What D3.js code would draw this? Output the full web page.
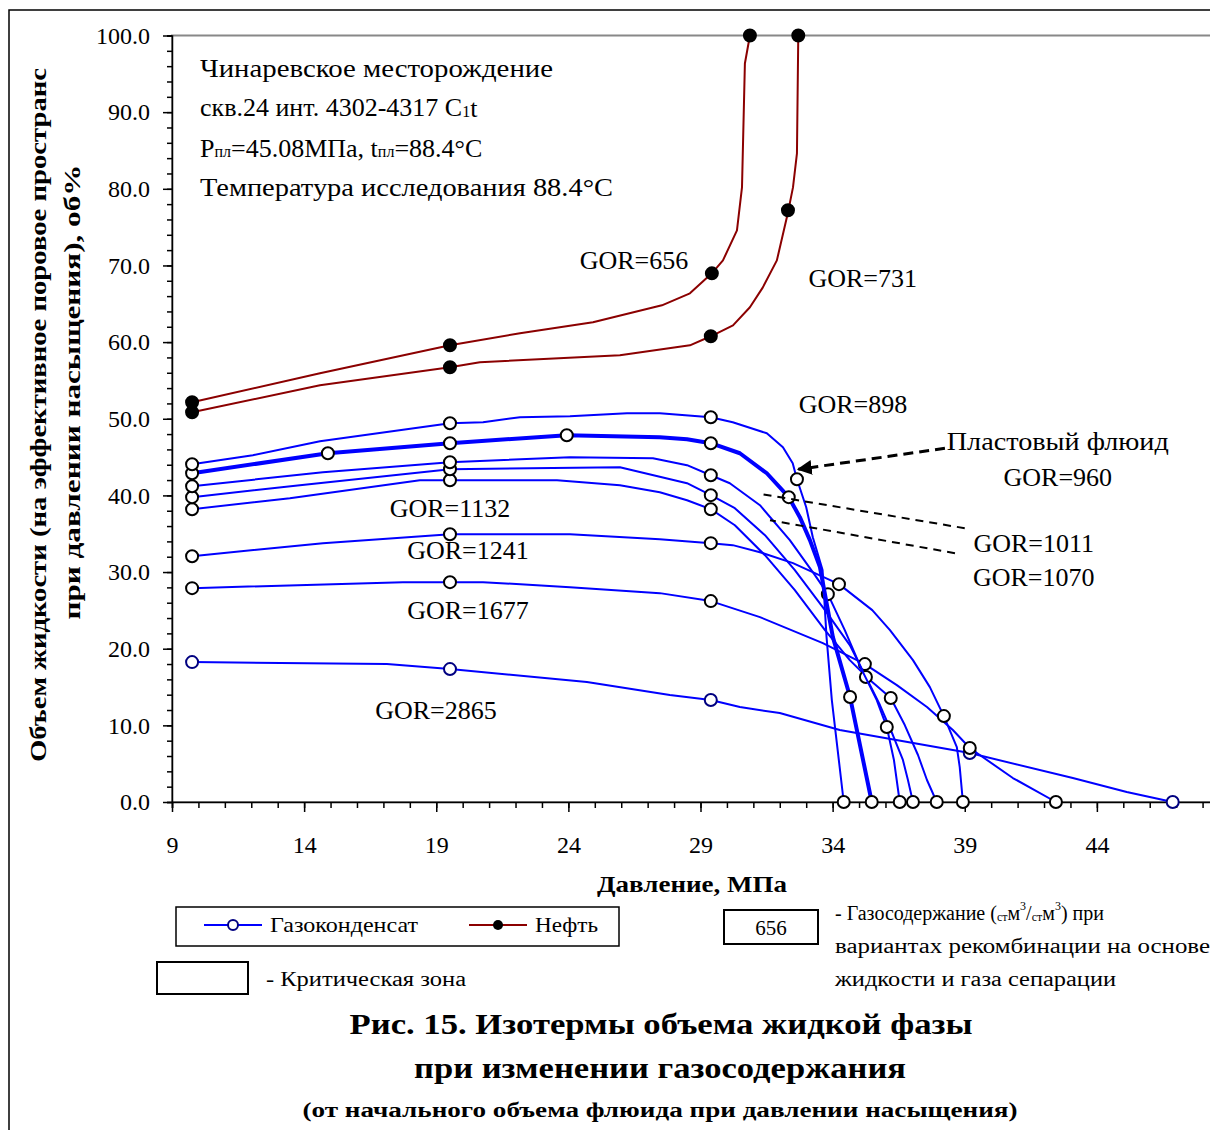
<!doctype html>
<html>
<head>
<meta charset="utf-8"/>
<title>Изотермы объема жидкой фазы</title>
<script src="https://d3js.org/d3.v7.min.js"></script>
<style>
  body { margin: 0; background: #fff; overflow: hidden; }
  text { font-family: "Liberation Serif", "Times New Roman", serif; fill: #000; }
</style>
</head>
<body>
<script>
// ---- data: [давление МПа, объем %] ----
// нефть (линия + точки)
var oil656Line = [[9.76,52.15],[14.6,55.93],[19.52,59.58],[22.17,61.15],[24.93,62.58],[27.54,64.8],[28.6,66.36],[29.43,68.97],[29.85,70.66],[30.38,74.58],[30.57,80.18],[30.68,96.35],[30.87,100]];
var oil656Pts  = [[9.76,52.15],[19.52,59.58],[29.43,68.97],[30.87,100]];
var oil731Line = [[9.76,50.85],[14.6,54.37],[19.52,56.71],[20.65,57.37],[25.95,58.28],[28.6,59.58],[29.39,60.76],[30.23,62.19],[30.87,64.54],[31.36,67.14],[31.89,70.66],[32.31,76.92],[32.5,80.18],[32.65,84.62],[32.7,100]];
var oil731Pts  = [[9.76,50.85],[19.52,56.71],[29.39,60.76],[32.31,77.2],[32.7,100]];

// газоконденсат
var gc898Line = [[9.76,44.07],[12.06,45.24],[14.6,47.07],[19.52,49.41],[20.77,49.54],[22.17,50.2],[24.06,50.33],[26.22,50.72],[27.46,50.72],[29.39,50.2],[30.22,49.54],[31.51,48.11],[32.12,46.28],[32.49,44.2],[32.65,42.11],[33.0,38.46],[33.25,34.55],[33.62,30.25],[33.77,21.51],[33.97,13.3],[34.42,0]];
var gc898Pts  = [[9.76,44.07],[19.52,49.41],[29.39,50.2],[32.65,42.11],[34.42,0]];
var gc960Line = [[9.76,42.89],[14.9,45.5],[19.52,46.81],[23.94,47.85],[27.46,47.59],[28.49,47.33],[29.39,46.81],[30.49,45.5],[31.51,42.89],[32.34,39.77],[32.76,37.16],[33.14,34.16],[33.52,30.64],[34.01,21.51],[34.66,13.69],[35.48,0]];
var gc960Pts  = [[9.76,42.89],[14.9,45.5],[19.52,46.81],[23.94,47.85],[29.39,46.81],[32.34,39.77],[34.66,13.69],[35.48,0]];
var gc1011Line = [[9.76,41.2],[14.71,43.02],[19.52,44.33],[24.06,44.98],[27.2,44.85],[28.49,43.94],[29.39,42.63],[30.11,41.59],[31.25,38.72],[32.38,34.16],[33.33,29.6],[33.82,27.12],[34.46,22.43],[35.11,17.21],[35.67,13.3],[36.05,9.78],[36.32,5.48],[36.54,0]];
var gc1011Pts  = [[9.76,41.2],[19.52,44.33],[29.39,42.63],[33.82,27.12],[36.05,9.78],[36.54,0]];
var gc1070Line = [[9.76,39.77],[13.84,41.33],[19.52,43.42],[25.95,43.68],[28.49,41.59],[29.39,40.03],[30.3,38.33],[31.44,34.81],[32.57,30.25],[33.71,25.03],[34.65,20.47],[35.26,16.3],[35.79,12.65],[36.28,8.74],[36.66,5.48],[36.85,2.87],[37.04,0]];
var gc1070Pts  = [[9.76,39.77],[19.52,43.42],[29.39,40.03],[35.26,16.3],[37.04,0]];
var gc1132Line = [[9.76,38.2],[13.46,39.63],[18.38,41.98],[19.52,41.98],[23.57,41.98],[25.95,41.33],[27.46,40.42],[28.49,39.37],[29.39,38.2],[30.3,36.11],[31.44,32.2],[32.57,27.64],[33.71,22.43],[34.65,18.51],[35.41,15.91],[36.2,13.56],[36.73,10.04],[37.23,6.13],[37.57,2.87],[37.94,0]];
var gc1132Pts  = [[9.76,38.2],[19.52,41.98],[29.39,38.2],[36.2,13.56],[37.94,0]];
var gc1241Line = [[9.76,32.07],[14.71,33.77],[19.52,34.94],[24.06,34.94],[27.46,34.29],[29.39,33.77],[30.22,33.51],[31.25,32.59],[32.5,31.16],[34.24,28.42],[35.5,25.03],[36.17,22.43],[37.04,18.51],[37.68,14.99],[38.21,11.21],[38.7,7.17],[38.81,4.56],[38.93,0]];
var gc1241Pts  = [[9.76,32.07],[19.52,34.94],[29.39,33.77],[34.24,28.42],[38.21,11.21],[38.93,0]];
var gc1677Line = [[9.76,27.9],[17.74,28.68],[20.77,28.68],[24.06,28.03],[27.46,27.25],[29.39,26.21],[31.25,24.12],[33.63,20.73],[35.22,17.99],[36.43,15.25],[37.57,12.39],[38.55,9.39],[39.19,7.04],[40.82,3.13],[42.45,0]];
var gc1677Pts  = [[9.76,27.9],[19.52,28.68],[29.39,26.21],[35.22,17.99],[39.19,7.04],[42.45,0]];
var gc2865Line = [[9.76,18.25],[17.13,17.99],[19.52,17.34],[24.7,15.65],[27.84,13.95],[29.39,13.3],[30.49,12.39],[32.0,11.6],[34.27,9.39],[39.19,6.39],[43.09,3.13],[45.13,1.3],[46.87,0]];
var gc2865Pts  = [[9.76,18.25],[19.52,17.34],[29.39,13.3],[39.19,6.39],[46.87,0]];

// подписи
var xTicks = [9, 14, 19, 24, 29, 34, 39, 44];
var yTicks = [0, 10, 20, 30, 40, 50, 60, 70, 80, 90, 100];
var gorLabels = ["GOR=656", "GOR=731", "GOR=898", "GOR=960", "GOR=1011", "GOR=1070", "GOR=1132", "GOR=1241", "GOR=1677", "GOR=2865"];
var legendNames = ["Газоконденсат", "Нефть"];

var W = 1210, H = 1130;
var svg = d3.select("body").append("svg").attr("width", W).attr("height", H);

// ось X уходит за правый край рисунка
var x = d3.scaleLinear().domain([9, 49]).range([172, 1229]);
var y = d3.scaleLinear().domain([0, 100]).range([802, 35.5]);

// рамка рисунка
svg.append("rect").attr("x", 9).attr("y", 10).attr("width", W + 5).attr("height", H + 5)
   .attr("fill", "none").attr("stroke", "#000").attr("stroke-width", 1.5);

// область графика
svg.append("rect").attr("x", x(9)).attr("y", y(100)).attr("width", x(49) - x(9)).attr("height", y(0) - y(100))
   .attr("fill", "#fff").attr("stroke", "#888").attr("stroke-width", 2);

// оси
function styleAxis(g) {
  g.selectAll("path, line").attr("stroke", "#000").attr("stroke-width", 1.5);
  g.selectAll("text").style("font-family", "Liberation Serif").style("font-size", "24px").attr("fill", "#000");
}
var gx = svg.append("g").attr("transform", "translate(0," + y(0) + ")");
gx.call(d3.axisBottom(x).tickValues(d3.range(9, 50, 1)).tickSize(6).tickFormat("")).call(styleAxis);
var gx2 = svg.append("g").attr("transform", "translate(0," + y(0) + ")");
gx2.call(d3.axisBottom(x).tickValues(xTicks).tickSize(10).tickPadding(24).tickFormat(d3.format("d"))).call(styleAxis);
gx2.select(".domain").remove();

var gy = svg.append("g").attr("transform", "translate(" + x(9) + ",0)");
gy.call(d3.axisLeft(y).tickValues(d3.range(0, 101, 2)).tickSize(5).tickFormat("")).call(styleAxis);
var gy2 = svg.append("g").attr("transform", "translate(" + x(9) + ",0)");
gy2.call(d3.axisLeft(y).tickValues(yTicks).tickSize(9).tickPadding(13).tickFormat(d3.format(".1f"))).call(styleAxis);
gy2.select(".domain").remove();

// линии и точки
var line = d3.line().x(function(d){ return x(d[0]); }).y(function(d){ return y(d[1]); });

function Serie(lineData, ptsData, color, width, ptFill, ptStroke) {
  svg.append("path").datum(lineData).attr("d", line)
     .attr("fill", "none").attr("stroke", color).attr("stroke-width", width).attr("stroke-linejoin", "round");
  svg.selectAll(null).data(ptsData).enter().append("circle")
     .attr("cx", function(d){ return x(d[0]); }).attr("cy", function(d){ return y(d[1]); })
     .attr("r", 6).attr("fill", ptFill).attr("stroke", ptStroke).attr("stroke-width", 2);
}

var blue = "#0000ff", red = "#8b0000";
Serie(gc2865Line, gc2865Pts, blue, 2, "#fff", "#000080");
Serie(gc1677Line, gc1677Pts, blue, 2, "#fff", "#000");
Serie(gc1241Line, gc1241Pts, blue, 2, "#fff", "#000");
Serie(gc1132Line, gc1132Pts, blue, 2, "#fff", "#000");
Serie(gc1070Line, gc1070Pts, blue, 2, "#fff", "#000");
Serie(gc1011Line, gc1011Pts, blue, 2, "#fff", "#000");
Serie(gc960Line, gc960Pts, blue, 4, "#fff", "#000");
Serie(gc898Line, gc898Pts, blue, 2, "#fff", "#000");
Serie(oil731Line, oil731Pts, red, 2, "#000", "#000");
Serie(oil656Line, oil656Pts, red, 2, "#000", "#000");

// текст
function Texto(px, py, str, size, opts) {
  opts = opts || {};
  var t = svg.append("text").attr("x", px).attr("y", py).text(str)
     .style("font-size", size + "px")
     .attr("text-anchor", opts.anchor || "start")
     .attr("dominant-baseline", "central");
  if (opts.bold) t.style("font-weight", "bold");
  if (opts.len) t.attr("textLength", opts.len).attr("lengthAdjust", "spacingAndGlyphs");
  if (opts.rot) t.attr("transform", "rotate(" + opts.rot + "," + px + "," + py + ")");
  return t;
}

// информация о месторождении
Texto(x(10.06), y(95.7), "Чинаревское месторождение", 26, {len: 353});
var t2 = Texto(x(10.06), y(90.6), "скв.24 инт. 4302-4317 C", 26);
t2.append("tspan").text("1").style("font-size", "16px").attr("dy", 3);
t2.append("tspan").text("t").attr("dy", -3);
var t3 = Texto(x(10.06), y(85.3), "P", 26);
t3.append("tspan").text("пл").style("font-size", "16px").attr("dy", 3);
t3.append("tspan").text("=45.08МПа, t").attr("dy", -3);
t3.append("tspan").text("пл").style("font-size", "16px").attr("dy", 3);
t3.append("tspan").text("=88.4°C").attr("dy", -3);
Texto(x(10.06), y(80.2), "Температура исследования 88.4°C", 26, {len: 413});

// подписи GOR
var gorPos = [[26.48,70.66],[35.14,68.32],[34.77,51.89],[42.52,42.37],[41.61,33.77],[41.61,29.34],[19.52,38.33],[20.2,32.86],[20.2,25.03],[18.99,12.0]];
gorLabels.forEach(function(s, i) {
  Texto(x(gorPos[i][0]), y(gorPos[i][1]), s, 26, {anchor: "middle"});
});
Texto(x(42.52), y(47.07), "Пластовый флюид", 26, {anchor: "middle", len: 222});

// стрелки
svg.append("defs").append("marker").attr("id", "arr").attr("viewBox", "0 0 10 10")
   .attr("refX", 9).attr("refY", 5).attr("markerWidth", 5).attr("markerHeight", 5)
   .attr("orient", "auto").append("path").attr("d", "M0,0 L10,5 L0,10 z").attr("fill", "#000");
svg.append("line").attr("x1", x(38.25)).attr("y1", y(46.15)).attr("x2", x(32.7)).attr("y2", y(43.4))
   .attr("stroke", "#000").attr("stroke-width", 3).attr("stroke-dasharray", "10,6").attr("marker-end", "url(#arr)");
svg.append("line").attr("x1", x(39.0)).attr("y1", y(35.72)).attr("x2", x(31.32)).attr("y2", y(40.16))
   .attr("stroke", "#000").attr("stroke-width", 2).attr("stroke-dasharray", "8,6");
svg.append("line").attr("x1", x(38.63)).attr("y1", y(32.46)).attr("x2", x(31.63)).attr("y2", y(36.77))
   .attr("stroke", "#000").attr("stroke-width", 2).attr("stroke-dasharray", "8,6");

// подписи осей
Texto(692, 884, "Давление, МПа", 23, {anchor: "middle", bold: true, len: 190});
Texto(38, 415, "Объем жидкости (на эффективное поровое пространс", 23, {anchor: "middle", bold: true, rot: -90, len: 694});
Texto(72, 392, "при давлении насыщения), об%", 23, {anchor: "middle", bold: true, rot: -90, len: 455});

// легенда
svg.append("rect").attr("x", 176).attr("y", 907).attr("width", 443).attr("height", 39)
   .attr("fill", "#fff").attr("stroke", "#000").attr("stroke-width", 1.5);
svg.append("line").attr("x1", 204).attr("x2", 262).attr("y1", 925).attr("y2", 925).attr("stroke", blue).attr("stroke-width", 2);
svg.append("circle").attr("cx", 233).attr("cy", 925).attr("r", 5).attr("fill", "#fff").attr("stroke", "#000080").attr("stroke-width", 2);
Texto(270, 925, legendNames[0], 21, {len: 148});
svg.append("line").attr("x1", 469).attr("x2", 527).attr("y1", 925).attr("y2", 925).attr("stroke", red).attr("stroke-width", 2);
svg.append("circle").attr("cx", 498).attr("cy", 925).attr("r", 5).attr("fill", "#000");
Texto(535, 925, legendNames[1], 21, {len: 63});

svg.append("rect").attr("x", 724).attr("y", 910).attr("width", 94).attr("height", 34)
   .attr("fill", "#fff").attr("stroke", "#000").attr("stroke-width", 2);
Texto(771, 928, "656", 21, {anchor: "middle"});
var lg = Texto(835, 913, "- Газосодержание (", 20);
lg.append("tspan").text("ст").style("font-size", "12px").attr("dy", 4);
lg.append("tspan").text("м").attr("dy", -4);
lg.append("tspan").text("3").style("font-size", "12px").attr("dy", -7);
lg.append("tspan").text("/").attr("dy", 7);
lg.append("tspan").text("ст").style("font-size", "12px").attr("dy", 4);
lg.append("tspan").text("м").attr("dy", -4);
lg.append("tspan").text("3").style("font-size", "12px").attr("dy", -7);
lg.append("tspan").text(") при").attr("dy", 7);
Texto(835, 946, "вариантах рекомбинации на основе", 20, {len: 375});
Texto(835, 979, "жидкости и газа сепарации", 20, {len: 281});

svg.append("rect").attr("x", 157).attr("y", 962).attr("width", 91).attr("height", 32)
   .attr("fill", "#fff").attr("stroke", "#000").attr("stroke-width", 2);
Texto(266, 979, "- Критическая зона", 20, {len: 200});

// заголовок
Texto(661, 1024, "Рис. 15. Изотермы объема жидкой фазы", 29, {anchor: "middle", bold: true, len: 623});
Texto(660, 1068, "при изменении газосодержания", 29, {anchor: "middle", bold: true, len: 492});
Texto(660, 1110, "(от начального объема флюида при давлении насыщения)", 20, {anchor: "middle", bold: true, len: 715});
</script>
</body>
</html>
